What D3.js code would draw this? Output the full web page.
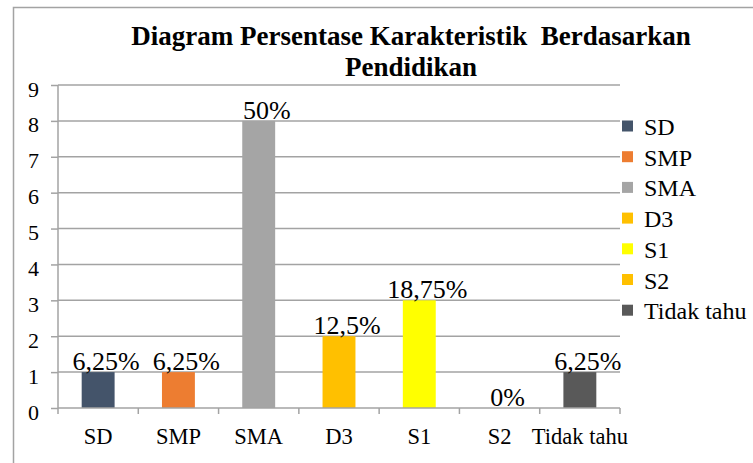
<!DOCTYPE html>
<html>
<head>
<meta charset="utf-8">
<script src="https://cdn.jsdelivr.net/npm/d3@7"></script>
<style>
  html, body { margin: 0; padding: 0; background: #fff; }
  svg { display: block; }
  svg text { font-family: "Liberation Serif", "Times New Roman", Tinos, serif; }
</style>
</head>
<body>
<svg id="chart" width="753" height="463"></svg>
<script>
const categories = ["SD", "SMP", "SMA", "D3", "S1", "S2", "Tidak tahu"];
const values = [1, 1, 8, 2, 3, 0, 1];
const labels = ["6,25%", "6,25%", "50%", "12,5%", "18,75%", "0%", "6,25%"];
const colors = ["#44546a", "#ed7d31", "#a5a5a5", "#ffc000", "#ffff00", "#ffc000", "#595959"];
const yTicks = [0, 1, 2, 3, 4, 5, 6, 7, 8, 9];
const titleLines = ["Diagram Persentase Karakteristik\u00a0\u00a0Berdasarkan", "Pendidikan"];

const FONT = "Liberation Serif";
const svg = d3.select("#chart");
const gridColor = "#a3a3a3";

// outer chart border (extends past the right and bottom edges)
svg.append("path")
  .attr("d", "M13.5,770 L13.5,7.5 L800,7.5")
  .attr("fill", "none").attr("stroke", gridColor).attr("stroke-width", 1.5);

const plot = { left: 58, right: 620, top: 85, bottom: 408 };
const x = d3.scaleBand().domain(categories).range([plot.left, plot.right]).paddingInner(0).paddingOuter(0);
const y = d3.scaleLinear().domain([0, 9]).range([plot.bottom, plot.top]);

// gridlines
svg.append("g").selectAll("line").data(yTicks.filter(d => d > 0)).join("line")
  .attr("x1", plot.left).attr("x2", plot.right)
  .attr("y1", d => y(d)).attr("y2", d => y(d))
  .attr("stroke", gridColor).attr("stroke-width", 1.5);

// y axis
const yAxis = svg.append("g").attr("transform", `translate(${plot.left},0)`)
  .call(d3.axisLeft(y).tickValues(yTicks).tickSize(7).tickPadding(12).tickFormat(d3.format("d")));
yAxis.attr("font-family", null).attr("font-size", null);
yAxis.select(".domain").attr("stroke", gridColor).attr("stroke-width", 1.5).attr("d", `M0,${plot.bottom}V${plot.top}`);
yAxis.selectAll(".tick line").attr("stroke", gridColor).attr("stroke-width", 1.5);
yAxis.selectAll(".tick text").style("font-family", FONT).style("font-size", "22px").attr("fill", "#000").attr("dy", "0.5em");

// bars
const bw = x.bandwidth() * 0.41;
svg.append("g").selectAll("rect").data(categories).join("rect")
  .attr("x", (d) => x(d) + (x.bandwidth() - bw) / 2)
  .attr("y", (d, i) => y(values[i]))
  .attr("width", bw)
  .attr("height", (d, i) => y(0) - y(values[i]))
  .attr("fill", (d, i) => colors[i]);

// x axis
const xAxis = svg.append("g").attr("transform", `translate(0,${plot.bottom})`)
  .call(d3.axisBottom(x).tickSize(0).tickPadding(20));
xAxis.attr("font-family", null).attr("font-size", null);
xAxis.select(".domain").attr("stroke", gridColor).attr("stroke-width", 1.5).attr("d", `M${plot.left},0H${plot.right}`);
xAxis.selectAll(".tick text").style("font-family", FONT).style("font-size", "22.5px").attr("fill", "#000");
// category boundary ticks
const bounds = categories.map(c => x(c)).concat([plot.right]);
xAxis.append("g").selectAll("line").data(bounds).join("line")
  .attr("x1", d => d).attr("x2", d => d).attr("y1", 0).attr("y2", 6)
  .attr("stroke", gridColor).attr("stroke-width", 1.5);

// data labels
svg.append("g").selectAll("text").data(categories).join("text")
  .attr("x", d => x(d) + x.bandwidth() / 2 + 8)
  .attr("y", (d, i) => y(values[i]) - 2)
  .attr("text-anchor", "middle")
  .style("font-family", FONT).style("font-size", "26px")
  .attr("fill", "#000")
  .text((d, i) => labels[i]);

// title
svg.append("g").selectAll("text").data(titleLines).join("text")
  .attr("x", 411)
  .attr("y", (d, i) => 45 + i * 31)
  .attr("text-anchor", "middle")
  .style("font-family", FONT).style("font-size", "27px").style("font-weight", "bold")
  .attr("fill", "#000")
  .text(d => d);

// legend
const legend = svg.append("g").attr("transform", "translate(622,126)");
const item = legend.selectAll("g").data(categories).join("g")
  .attr("transform", (d, i) => `translate(0,${i * 30.7})`);
item.append("rect").attr("x", 0).attr("y", -5.5).attr("width", 11).attr("height", 11)
  .attr("fill", (d, i) => colors[i]);
item.append("text").attr("x", 22).attr("y", 9)
  .style("font-family", FONT).style("font-size", "24px").attr("fill", "#000").text(d => d);
</script>
</body>
</html>
